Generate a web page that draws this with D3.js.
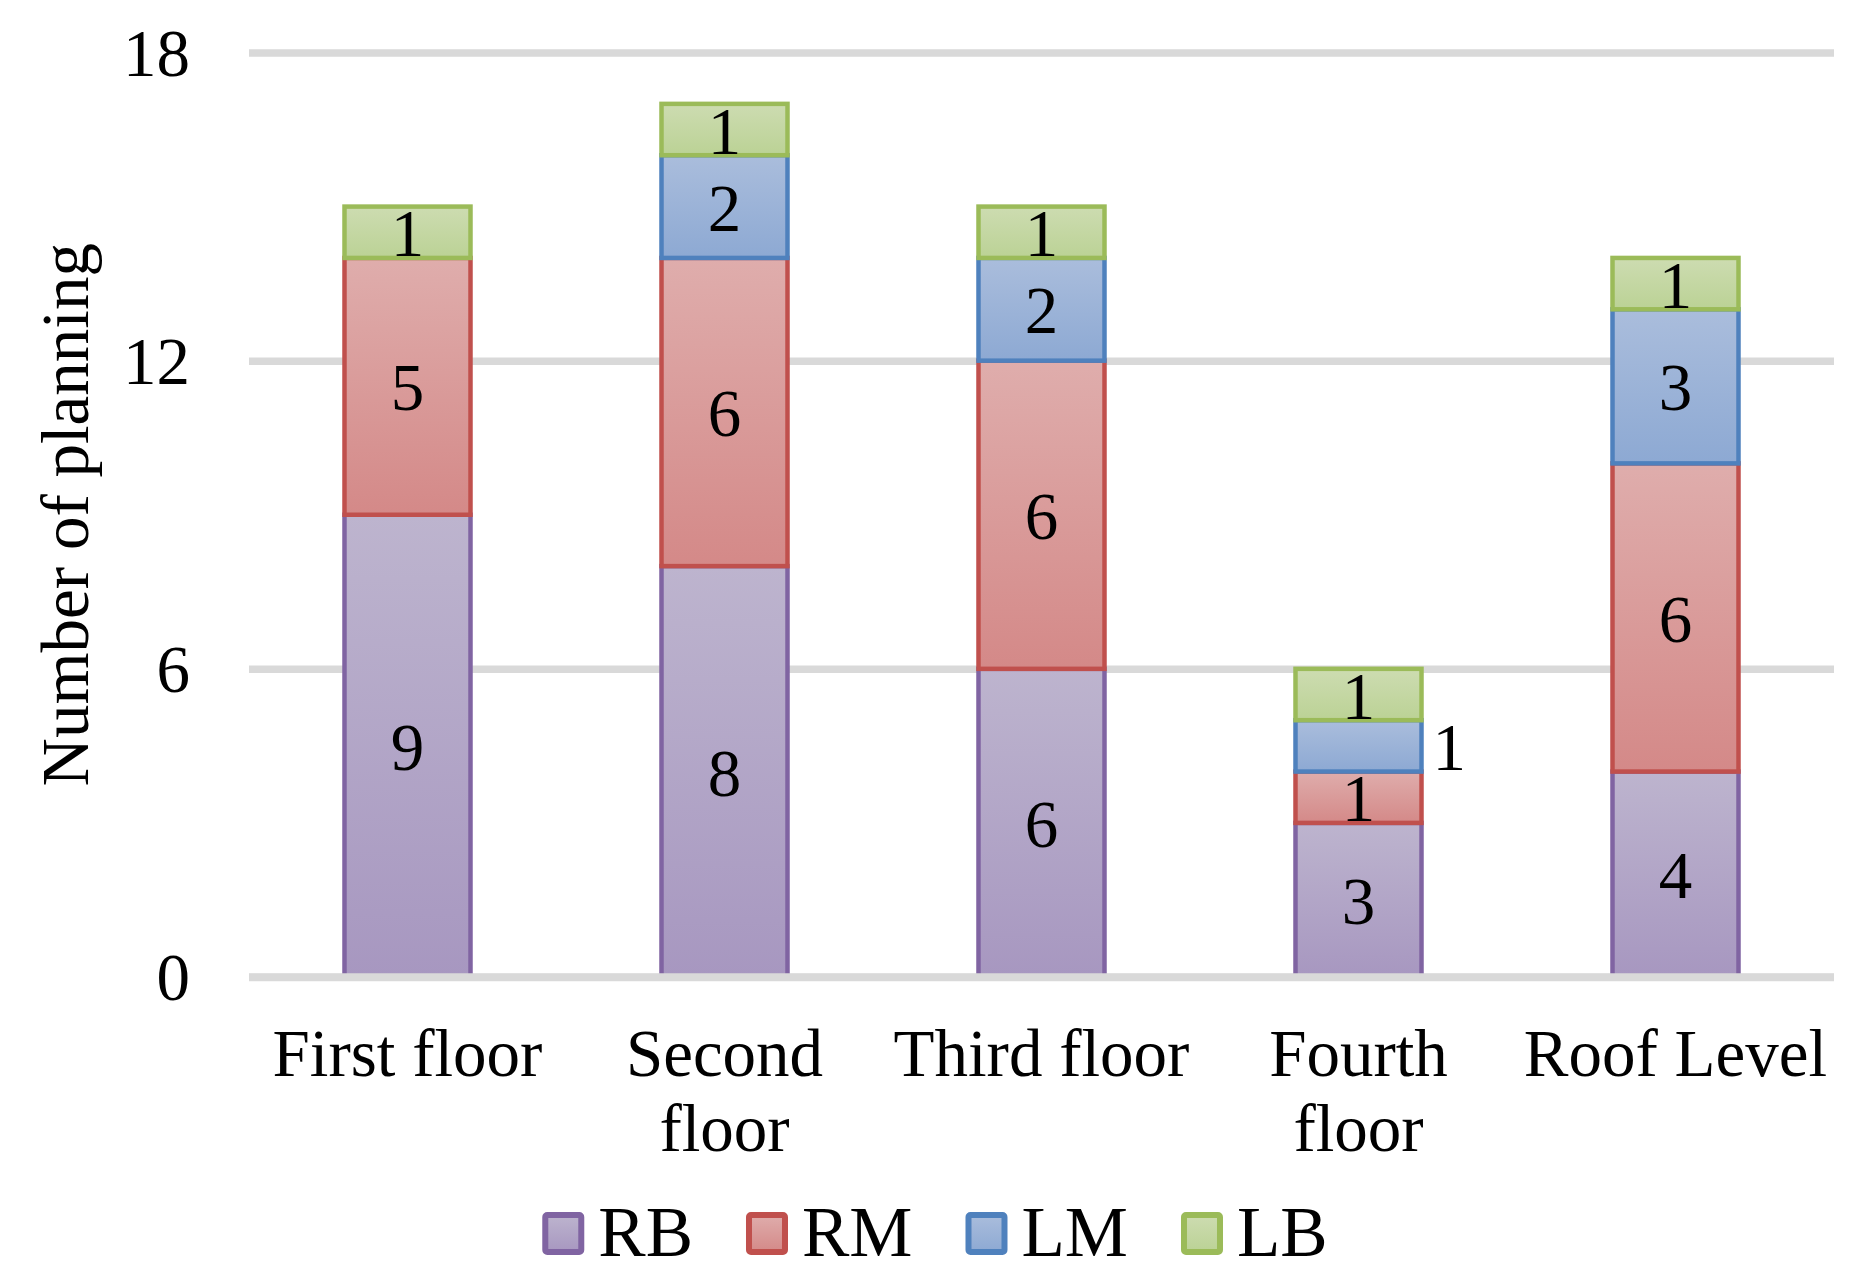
<!DOCTYPE html>
<html>
<head>
<meta charset="utf-8">
<script src="https://cdn.jsdelivr.net/npm/d3@7"></script>
<style>
  body { margin: 0; background: #fff; }
  text { font-family: "Liberation Serif", "Times New Roman", serif; fill: #000; }
</style>
</head>
<body>
<div id="viz"></div>
<script>

const categories = ["First floor", "Second floor", "Third floor", "Fourth floor", "Roof Level"];
const seriesNames = ["RB", "RM", "LM", "LB"];
const rbValues = [9, 8, 6, 3, 4];
const rmValues = [5, 6, 6, 1, 6];
const lmValues = [0, 2, 2, 1, 3];
const lbValues = [1, 1, 1, 1, 1];
const yTicks = [0, 6, 12, 18];
// labels Excel pushed to the right of the bar
const sideLabels = [["Fourth floor", "LM"]];

const colors = {
  RB: {stroke: "#8064a2", top: "#bdb4ce", bottom: "#a797c0"},
  RM: {stroke: "#c0504d", top: "#dfadac", bottom: "#d48988"},
  LM: {stroke: "#4f81bd", top: "#aabddc", bottom: "#8da9d3"},
  LB: {stroke: "#9bbb59", top: "#cddcb1", bottom: "#bbd295"}
};

const FONT = "'Liberation Serif', 'Times New Roman', serif";
const W = 1870, H = 1285;
const plot = {left: 249, right: 1834, top: 52.5, bottom: 977};

const svg = d3.select("#viz")
  .append("svg")
  .attr("width", W)
  .attr("height", H)
  .attr("viewBox", [0, 0, W, H])
  .attr("font-family", FONT);

const defs = svg.append("defs");
seriesNames.forEach(s => {
  const g = defs.append("linearGradient")
    .attr("id", "grad-" + s)
    .attr("x1", 0).attr("y1", 0).attr("x2", 0).attr("y2", 1);
  g.append("stop").attr("offset", "0%").attr("stop-color", colors[s].top);
  g.append("stop").attr("offset", "100%").attr("stop-color", colors[s].bottom);
});

const table = categories.map((c, i) => ({
  category: c, RB: rbValues[i], RM: rmValues[i], LM: lmValues[i], LB: lbValues[i]
}));

const stacked = d3.stack().keys(seriesNames)(table);

const x = d3.scaleBand()
  .domain(categories)
  .range([plot.left, plot.right])
  .paddingInner(0.6025)
  .paddingOuter(0.30125);

const y = d3.scaleLinear()
  .domain([0, 18])
  .range([plot.bottom, plot.top]);

// gridlines + y labels
const yAxis = svg.append("g")
  .attr("transform", `translate(${plot.left},0)`)
  .call(d3.axisLeft(y).tickValues(yTicks).tickSize(-(plot.right - plot.left)).tickPadding(59));
yAxis.select(".domain").remove();
yAxis.selectAll(".tick line")
  .attr("stroke", "#d9d9d9")
  .attr("stroke-width", 7.5);
yAxis.selectAll(".tick text")
  .attr("font-size", 67)
  .attr("font-family", FONT)
  .attr("fill", "#000")
  .attr("dy", "0.34em");

// bars
const layers = svg.append("g")
  .attr("class", "rect-bars")
  .selectAll("g")
  .data(stacked)
  .enter()
  .append("g");

layers.selectAll("rect")
  .data(s => s.map(d => ({key: s.key, d: d})).filter(e => e.d[1] - e.d[0] > 0))
  .enter()
  .append("rect")
    .attr("x", e => x(e.d.data.category))
    .attr("y", e => y(e.d[1]))
    .attr("width", x.bandwidth())
    .attr("height", e => y(e.d[0]) - y(e.d[1]))
    .attr("fill", e => `url(#grad-${e.key})`)
    .attr("stroke", e => colors[e.key].stroke)
    .attr("stroke-width", 4.5);

// axis line over bar bottoms
svg.append("line")
  .attr("x1", plot.left).attr("x2", plot.right)
  .attr("y1", y(0)).attr("y2", y(0))
  .attr("stroke", "#d9d9d9")
  .attr("stroke-width", 7.5);

// data labels
const isSide = (c, k) => sideLabels.some(p => p[0] === c && p[1] === k);
layers.selectAll("text")
  .data(s => s.map(d => ({key: s.key, d: d})).filter(e => e.d[1] - e.d[0] > 0))
  .enter()
  .append("text")
    .attr("x", e => isSide(e.d.data.category, e.key)
      ? x(e.d.data.category) + x.bandwidth() + 11
      : x(e.d.data.category) + x.bandwidth() / 2)
    .attr("y", e => (y(e.d[0]) + y(e.d[1])) / 2)
    .attr("dy", "0.36em")
    .attr("text-anchor", e => isSide(e.d.data.category, e.key) ? "start" : "middle")
    .attr("font-size", 67)
    .text(e => e.d[1] - e.d[0]);

// category labels, wrapped to the band step
const catLabels = svg.append("g")
  .selectAll("text")
  .data(categories)
  .enter()
  .append("text")
    .attr("text-anchor", "middle")
    .attr("font-size", 67)
    .attr("x", d => x(d) + x.bandwidth() / 2)
    .attr("y", 1076);

catLabels.each(function(d) {
  const t = d3.select(this);
  const cx = x(d) + x.bandwidth() / 2;
  const words = d.split(" ");
  t.text(d);
  if (this.getComputedTextLength() <= x.step()) return;
  t.text(null);
  let line = [], lineNo = 0;
  let tspan = t.append("tspan").attr("x", cx).attr("y", 1076);
  words.forEach(w => {
    line.push(w);
    tspan.text(line.join(" "));
    if (tspan.node().getComputedTextLength() > x.step() && line.length > 1) {
      line.pop();
      tspan.text(line.join(" "));
      line = [w];
      lineNo++;
      tspan = t.append("tspan").attr("x", cx).attr("y", 1076 + lineNo * 75).text(w);
    }
  });
});

// y axis title
svg.append("text")
  .attr("transform", `translate(88,${(plot.top + plot.bottom) / 2}) rotate(-90)`)
  .attr("text-anchor", "middle")
  .attr("font-size", 67)
  .text("Number of planning");

// legend, centred on the whole chart
const legend = svg.append("g");
let lx = 0;
seriesNames.forEach(s => {
  const item = legend.append("g").attr("transform", `translate(${lx},0)`);
  item.append("rect")
    .attr("x", 3).attr("y", 1215)
    .attr("width", 36).attr("height", 37)
    .attr("rx", 2)
    .attr("fill", `url(#grad-${s})`)
    .attr("stroke", colors[s].stroke)
    .attr("stroke-width", 6);
  const t = item.append("text")
    .attr("x", 56).attr("y", 1256)
    .attr("font-size", 71)
    .text(s);
  lx += 56 + t.node().getComputedTextLength() + 53;
});
const lw = lx - 53;
legend.attr("transform", `translate(${(W - lw) / 2},0)`);

</script>
</body>
</html>
